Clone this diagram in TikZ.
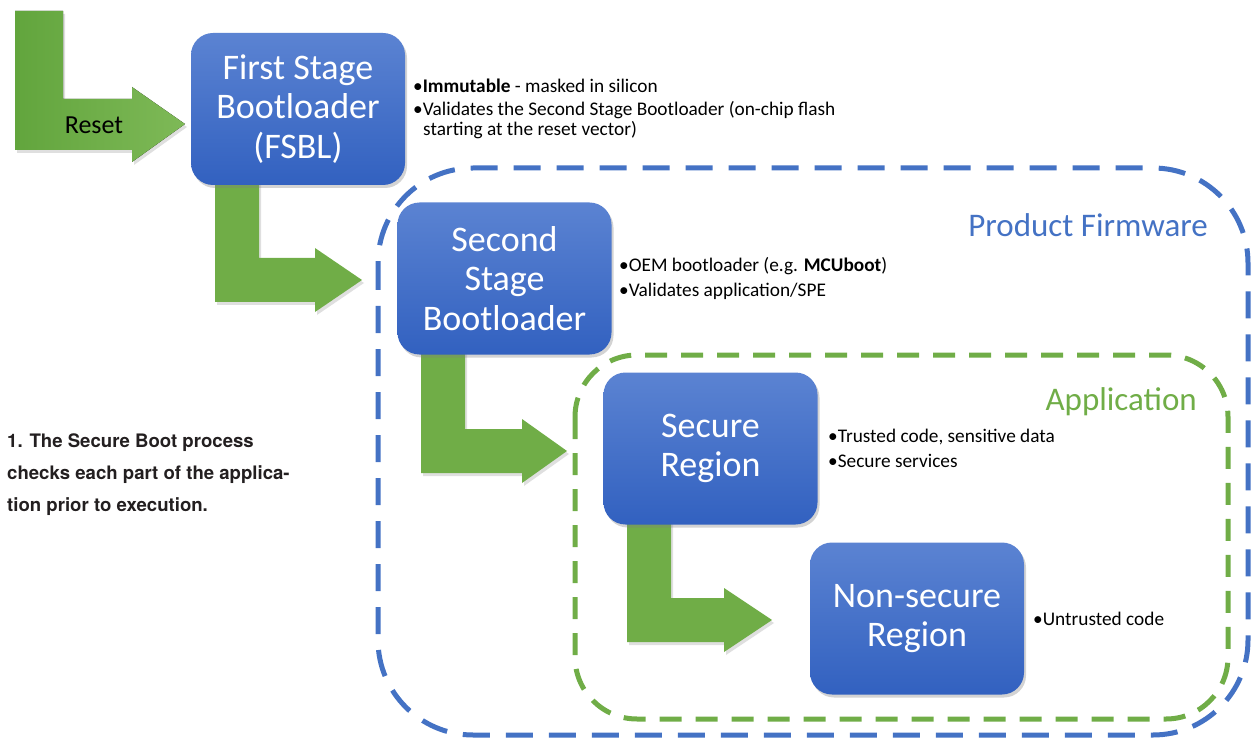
\documentclass[tikz,border=0pt]{standalone}
\usepackage{fontspec}
\setmainfont{Carlito}
\newfontfamily\capfont{TeX Gyre Heros}
\usetikzlibrary{shadows}
\definecolor{boxtop}{HTML}{5B83D2}
\definecolor{boxbot}{HTML}{3261C0}
\definecolor{fwblue}{HTML}{4472C4}
\definecolor{appgreen}{HTML}{70AD47}
\definecolor{arrgreenL}{HTML}{62A53D}
\definecolor{arrgreenR}{HTML}{7EB957}
\definecolor{captext}{HTML}{231F20}
\tikzset{
  stagebox/.style={rounded corners=22pt, minimum width=214pt, minimum height=152pt,
    top color=boxtop, bottom color=boxbot, draw=none, text=white, align=center,
    font=\fontsize{36}{39.5}\selectfont,
    drop shadow={opacity=0.35, shadow xshift=2pt, shadow yshift=-3pt}},
  greenarrow/.style={fill=appgreen, draw=none,
    drop shadow={opacity=0.25, shadow xshift=2pt, shadow yshift=-3pt}},
  note/.style={anchor=west, inner sep=0pt, font=\fontsize{19.3}{22}\selectfont, text=black},
  caption/.style={anchor=west, inner sep=0pt, font=\capfont\bfseries\fontsize{18.6}{22}\selectfont, text=captext},
  fwframe/.style={draw=fwblue, line width=5pt, dash pattern=on 27pt off 16pt, rounded corners=95pt},
  appframe/.style={draw=appgreen, line width=5pt, dash pattern=on 22pt off 14pt, rounded corners=62pt},
  framelabel/.style={anchor=east, inner sep=0pt, font=\fontsize{33}{38}\selectfont}
}
\begin{document}
\begin{tikzpicture}[x=1pt, y=-1pt]
\useasboundingbox (0,0) rectangle (1258,743);
% dashed frames
\draw[fwframe] (378,168) rectangle (1248,735);
\draw[appframe] (575,355) rectangle (1228,719);
\node[framelabel, text=fwblue] (fwlabel) at (1208,225) {Product Firmware};
\node[framelabel, text=appgreen] (applabel) at (1197,402) {Application};
% arrows
\fill[left color=arrgreenL, right color=arrgreenR,
  drop shadow={opacity=0.25, shadow xshift=2pt, shadow yshift=-3pt}]
  (15,11) -- (63,11) -- (63,99) -- (132,99) -- (132,87) -- (185,124) -- (132,162) -- (132,150) -- (15,150) -- cycle;
\path[greenarrow] (215,180) -- (259,180) -- (259,258) -- (315,258) -- (315,248) -- (362,280) -- (315,312) -- (315,302) -- (215,302) -- cycle;
\path[greenarrow] (421,350) -- (465,350) -- (465,429) -- (522,429) -- (522,419) -- (567,451) -- (522,483) -- (522,473) -- (421,473) -- cycle;
\path[greenarrow] (627,520) -- (671,520) -- (671,598) -- (724,598) -- (724,588) -- (772,620) -- (724,652) -- (724,642) -- (627,642) -- cycle;
\node[font=\fontsize{26}{30}\selectfont, text=black] (reset) at (94,125) {Reset};
% boxes
\node[stagebox] (fsbl) at (298,109) {First Stage\\Bootloader\\(FSBL)};
\node[stagebox] (ssbl) at (504.5,278.5) {Second\\Stage\\Bootloader};
\node[stagebox] (sec) at (710.5,448.5) {Secure\\Region};
\node[stagebox] (nsec) at (917,618.5) {Non-secure\\Region};
% notes
\node[note] (n1) at (413,86) {•\textbf{Immutable} - masked in silicon};
\node[note] (n2) at (413,110) {•Validates the Second Stage Bootloader (on-chip flash};
\node[note] (n3) at (423,130) {starting at the reset vector)};
\node[note] (n4) at (619,266) {•OEM bootloader (e.g. \textbf{MCUboot})};
\node[note] (n5) at (619,291) {•Validates application/SPE};
\node[note] (n6) at (828,437) {•Trusted code, sensitive data};
\node[note] (n7) at (828,461) {•Secure services};
\node[note] (n8) at (1033,619) {•Untrusted code};
% caption
\node[caption] (c1) at (7,443) {1. The Secure Boot process};
\node[caption] (c2) at (7,475) {checks each part of the applica-};
\node[caption] (c3) at (7,507) {tion prior to execution.};
\end{tikzpicture}
\end{document}
